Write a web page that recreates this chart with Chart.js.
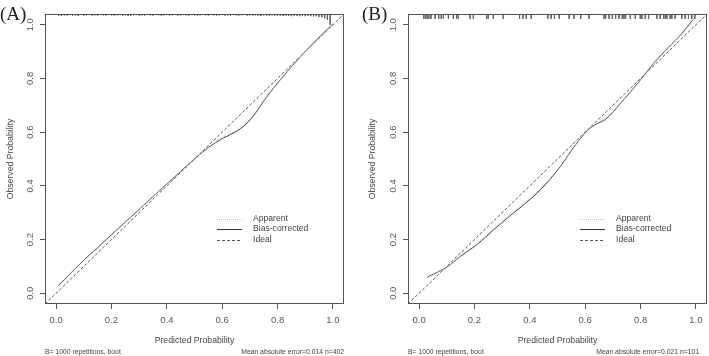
<!DOCTYPE html>
<html>
<head>
<meta charset="utf-8">
<script src="https://cdn.jsdelivr.net/npm/chart.js@4.4.1/dist/chart.umd.min.js"></script>
<style>
body { margin: 0; background: #fff; width: 709px; height: 356px; position: relative; overflow: hidden; }
.panel { position: absolute; top: 0; height: 356px; }
#boxA { left: 0; width: 354px; }
#boxB { left: 362px; width: 347px; }
</style>
</head>
<body>
<div class="panel" id="boxA"><canvas id="canvasA" width="354" height="356"></canvas></div>
<div class="panel" id="boxB"><canvas id="canvasB" width="347" height="356"></canvas></div>
<script>
/* axes (both panels) */
const tickVals = [0, 0.2, 0.4, 0.6, 0.8, 1.0];
const axisMin = -0.04;
const axisMax = 1.04;
const idealPts = [-0.04, 1.04];

/* panel A : n=402 */
const predA     = [0.01, 0.05, 0.10, 0.15, 0.20, 0.25, 0.30, 0.35, 0.40, 0.45, 0.50, 0.55, 0.60, 0.65, 0.68, 0.71, 0.76, 0.81, 0.86, 0.90, 0.95, 1.00];
const biasA     = [0.030, 0.072, 0.123, 0.170, 0.218, 0.265, 0.312, 0.360, 0.407, 0.454, 0.500, 0.543, 0.576, 0.602, 0.624, 0.657, 0.730, 0.795, 0.855, 0.900, 0.953, 1.003];
const apparentA = [0.028, 0.070, 0.121, 0.168, 0.216, 0.263, 0.311, 0.359, 0.406, 0.453, 0.500, 0.544, 0.579, 0.606, 0.628, 0.661, 0.733, 0.797, 0.856, 0.900, 0.952, 1.002];
const rugAx = [0.01, 0.02, 0.03, 0.04, 0.05, 0.06, 0.07, 0.08, 0.09, 0.10,
               0.11, 0.12, 0.13, 0.14, 0.15, 0.16, 0.17, 0.18, 0.19, 0.20,
               0.21, 0.22, 0.23, 0.24, 0.25, 0.26, 0.27, 0.28, 0.29, 0.30,
               0.31, 0.32, 0.33, 0.34, 0.35, 0.36, 0.37, 0.38, 0.39, 0.40,
               0.41, 0.42, 0.43, 0.44, 0.45, 0.46, 0.47, 0.48, 0.49, 0.50,
               0.51, 0.52, 0.53, 0.54, 0.55, 0.56, 0.57, 0.58, 0.59, 0.60,
               0.61, 0.62, 0.63, 0.64, 0.65, 0.66, 0.67, 0.68, 0.69, 0.70,
               0.71, 0.72, 0.73, 0.74, 0.75, 0.76, 0.77, 0.78, 0.79, 0.80,
               0.81, 0.82, 0.83, 0.84, 0.85, 0.86, 0.87, 0.88, 0.89, 0.90,
               0.91, 0.92, 0.93, 0.94, 0.95, 0.96, 0.97, 0.98, 0.99];
const rugAh = [0.006, 0.007, 0.005, 0.006, 0.004, 0.006, 0.005, 0.007, 0.004, 0.006,
               0.005, 0.004, 0.006, 0.005, 0.007, 0.004, 0.005, 0.006, 0.004, 0.005,
               0.006, 0.005, 0.004, 0.006, 0.005, 0.007, 0.006, 0.005, 0.004, 0.006,
               0.005, 0.006, 0.004, 0.005, 0.006, 0.004, 0.005, 0.006, 0.005, 0.004,
               0.006, 0.005, 0.004, 0.006, 0.005, 0.004, 0.005, 0.006, 0.004, 0.005,
               0.006, 0.005, 0.004, 0.005, 0.006, 0.004, 0.005, 0.006, 0.005, 0.004,
               0.006, 0.005, 0.006, 0.004, 0.005, 0.006, 0.005, 0.004, 0.006, 0.005,
               0.006, 0.005, 0.006, 0.007, 0.005, 0.006, 0.007, 0.005, 0.006, 0.007,
               0.006, 0.007, 0.006, 0.007, 0.008, 0.006, 0.007, 0.008, 0.007, 0.008,
               0.007, 0.008, 0.009, 0.008, 0.010, 0.012, 0.016, 0.022, 0.040];

/* panel B : n=101 */
const predB     = [0.03, 0.065, 0.10, 0.15, 0.21, 0.27, 0.33, 0.37, 0.44, 0.51, 0.566, 0.61, 0.64, 0.674, 0.73, 0.80, 0.85, 0.90, 0.95, 0.99];
const biasB     = [0.060, 0.078, 0.097, 0.138, 0.182, 0.237, 0.290, 0.323, 0.387, 0.472, 0.554, 0.608, 0.630, 0.648, 0.710, 0.795, 0.860, 0.915, 0.968, 1.020];
const apparentB = [0.058, 0.077, 0.098, 0.140, 0.185, 0.240, 0.293, 0.327, 0.391, 0.475, 0.556, 0.609, 0.632, 0.651, 0.712, 0.796, 0.859, 0.913, 0.966, 1.017];
const rugBx = [0.017, 0.023, 0.029, 0.035, 0.043, 0.058, 0.071, 0.080, 0.088, 0.106,
               0.124, 0.136, 0.142, 0.184, 0.196, 0.244, 0.250, 0.268, 0.304, 0.363,
               0.375, 0.387, 0.405, 0.465, 0.477, 0.489, 0.506, 0.542, 0.560, 0.584,
               0.614, 0.668, 0.674, 0.686, 0.698, 0.710, 0.722, 0.734, 0.740, 0.746,
               0.763, 0.781, 0.799, 0.805, 0.817, 0.829, 0.859, 0.871, 0.883, 0.889,
               0.895, 0.907, 0.913, 0.925, 0.949, 0.961, 0.973, 0.985, 0.996];
const rugBh = 0.018;

const legendNames = ['Apparent', 'Bias-corrected', 'Ideal'];

const fontSans = 'Liberation Sans, Arial, sans-serif';

function xy(xs, ys) {
    return xs.map(function(x, i){ return {x: x, y: ys[i]}; });
}

function rugPoints(xs, hs) {
    const pts = [];
    xs.forEach(function(x, i){
        const h = Array.isArray(hs) ? hs[i] : hs;
        pts.push({x: x, y: axisMax}, {x: x, y: axisMax - h}, {x: x, y: null});
    });
    return pts;
}

/* frame, R style legend, panel letter and footers */
const extrasPlugin = {
    id: 'extras',
    afterDatasetsDraw(chart, args, opts) {
        const ctx = chart.ctx;
        const a = chart.chartArea;
        ctx.save();
        ctx.strokeStyle = '#555';
        ctx.lineWidth = 1;
        ctx.setLineDash([]);
        ctx.strokeRect(Math.round(a.left) + 0.5, Math.round(a.top) + 0.5,
                       Math.round(a.right - a.left) - 1, Math.round(a.bottom - a.top) - 1);

        // legend
        const sets = chart.data.datasets.filter(function(d){ return d.inLegend; });
        ctx.font = '8.6px ' + fontSans;
        ctx.textBaseline = 'middle';
        ctx.textAlign = 'left';
        sets.forEach(function(d, i){
            const y = 218.5 + i * 10.5;
            ctx.beginPath();
            ctx.strokeStyle = d.borderColor;
            ctx.lineWidth = 1;
            ctx.setLineDash(d.borderDash || []);
            ctx.moveTo(a.left + 172, Math.round(y) + 0.5);
            ctx.lineTo(a.left + 197, Math.round(y) + 0.5);
            ctx.stroke();
            ctx.fillStyle = '#444';
            ctx.fillText(d.label, a.left + 208, y);
        });
        ctx.restore();
    },
    afterDraw(chart, args, opts) {
        const ctx = chart.ctx;
        const a = chart.chartArea;
        ctx.save();
        ctx.fillStyle = '#222';
        ctx.font = '19px Liberation Serif, Times New Roman, serif';
        ctx.textAlign = 'left';
        ctx.textBaseline = 'alphabetic';
        ctx.fillText(opts.letter, 0, 20);

        ctx.fillStyle = '#444';
        ctx.font = '6.8px ' + fontSans;
        ctx.textBaseline = 'middle';
        ctx.fillText(opts.footLeft, a.left, 352);
        ctx.textAlign = 'right';
        ctx.fillText(opts.footRight, a.right - opts.rightGap, 352);
        ctx.restore();
    }
};

function makeChart(id, pred, bias, apparent, rugData, padRight, yWidth, foot) {
    const ctx = document.getElementById(id);
    return new Chart(ctx, {
        type: 'line',
        data: {
            datasets: [{
                label: legendNames[0],
                inLegend: true,
                data: xy(pred, apparent),
                borderColor: '#c4c4c4',
                borderWidth: 1,
                borderDash: [1, 1],
                pointRadius: 0,
                cubicInterpolationMode: 'monotone'
            },
            {
                label: legendNames[1],
                inLegend: true,
                data: xy(pred, bias),
                borderColor: '#3a3a3a',
                borderWidth: 1,
                pointRadius: 0,
                cubicInterpolationMode: 'monotone'
            },
            {
                label: legendNames[2],
                inLegend: true,
                data: xy(idealPts, idealPts),
                borderColor: '#555',
                borderWidth: 1,
                borderDash: [3, 2],
                pointRadius: 0
            },
            {
                label: 'rug',
                data: rugData,
                borderColor: '#666',
                borderWidth: 1,
                pointRadius: 0,
                spanGaps: false
            }]
        },
        options: {
            responsive: false,
            animation: false,
            devicePixelRatio: 1,
            layout: {
                padding: {left: 0, right: padRight, top: 14, bottom: 0}
            },
            plugins: {
                legend: {display: false},
                tooltip: {enabled: false},
                extras: foot
            },
            scales: {
                x: {
                    type: 'linear',
                    min: axisMin,
                    max: axisMax,
                    afterBuildTicks: function(s){ s.ticks = tickVals.map(function(v){ return {value: v}; }); },
                    afterFit: function(s){ s.height = 52; },
                    grid: {drawOnChartArea: false, drawTicks: true, tickLength: 5, color: '#555'},
                    border: {display: false},
                    ticks: {
                        color: '#555',
                        padding: 6,
                        maxRotation: 0,
                        font: {family: fontSans, size: 9.5},
                        callback: function(v){ return v.toFixed(1); }
                    },
                    title: {
                        display: true,
                        text: 'Predicted Probability',
                        color: '#444',
                        font: {family: fontSans, size: 8.7},
                        padding: {top: 0, bottom: 10.5}
                    }
                },
                y: {
                    type: 'linear',
                    min: axisMin,
                    max: axisMax,
                    afterBuildTicks: function(s){ s.ticks = tickVals.map(function(v){ return {value: v}; }); },
                    afterFit: function(s){ s.width = yWidth; },
                    grid: {drawOnChartArea: false, drawTicks: true, tickLength: 5, color: '#555'},
                    border: {display: false},
                    ticks: {
                        color: '#555',
                        padding: 3,
                        minRotation: 90,
                        maxRotation: 90,
                        crossAlign: 'center',
                        font: {family: fontSans, size: 9.5},
                        callback: function(v){ return v.toFixed(1); }
                    },
                    title: {
                        display: true,
                        text: 'Observed Probability',
                        color: '#444',
                        font: {family: fontSans, size: 8.7},
                        padding: {top: 5, bottom: 0}
                    }
                }
            }
        },
        plugins: [extrasPlugin]
    });
}

makeChart('canvasA', predA, biasA, apparentA, rugPoints(rugAx, rugAh), 10, 45,
    {letter: '(A)', footLeft: 'B= 1000 repetitions, boot', footRight: 'Mean absolute error=0.014 n=402', rightGap: 0});
makeChart('canvasB', predB, biasB, apparentB, rugPoints(rugBx, rugBh), 2, 46,
    {letter: '(B)', footLeft: 'B= 1000 repetitions, boot', footRight: 'Mean absolute error=0.021 n=101', rightGap: 8});
</script>
</body>
</html>
